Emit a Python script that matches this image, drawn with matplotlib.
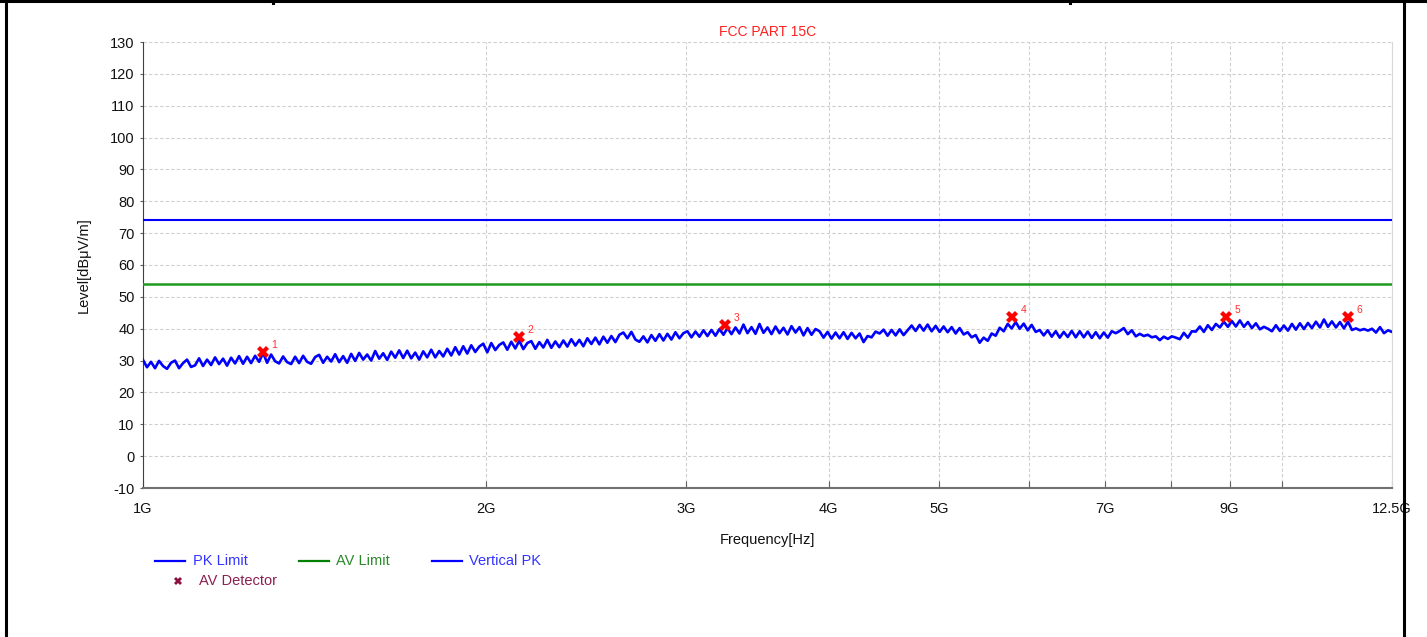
import numpy as np
import matplotlib
matplotlib.use("Agg")
import matplotlib.pyplot as plt
from matplotlib.lines import Line2D
from matplotlib.ticker import FixedLocator, FixedFormatter, NullLocator

plt.rcParams['font.family'] = ['Liberation Sans', 'DejaVu Sans']
plt.rcParams['axes.unicode_minus'] = False

# ---------------- data ----------------
f_start_hz = 1e9
f_stop_hz = 12.5e9

pk_limit = 74.0
av_limit = 54.0

vertical_pk = [
    30.2, 27.9, 29.6, 27.6, 29.9, 28.3, 27.4, 29.3, 30.0, 27.6, 29.2, 30.3, 28.0,
    28.5, 30.7, 28.3, 30.3, 28.6, 31.0, 28.9, 30.6, 28.4, 30.9, 29.1, 31.4, 29.0,
    31.2, 29.2, 31.5, 29.6, 32.4, 29.3, 31.9, 29.8, 29.1, 31.3, 29.5, 28.9, 31.2,
    29.2, 31.5, 29.6, 29.0, 31.1, 31.8, 29.3, 31.2, 29.7, 32.0, 29.5, 31.4, 29.3,
    32.1, 29.9, 32.4, 30.3, 31.9, 30.0, 33.0, 30.6, 32.3, 30.2, 32.8, 30.9, 33.2,
    30.8, 33.1, 30.7, 32.5, 30.3, 32.9, 31.0, 33.4, 31.0, 33.0, 31.3, 33.7, 31.6,
    34.2, 31.9, 34.5, 32.2, 34.8, 32.7, 34.4, 35.3, 32.6, 35.5, 33.3, 34.9, 35.7,
    33.4, 35.9, 33.8, 36.2, 33.6, 35.5, 36.1, 33.7, 35.8, 34.1, 36.5, 34.0, 36.0,
    34.2, 36.3, 34.4, 36.7, 34.7, 36.5, 34.5, 37.0, 35.2, 37.2, 35.1, 37.5, 35.6,
    37.7, 35.8, 38.1, 38.8, 37.0, 39.0, 36.6, 35.9, 37.6, 35.7, 38.0, 36.2, 38.3,
    36.3, 38.4, 36.6, 38.9, 37.0, 38.6, 39.2, 37.3, 39.1, 37.5, 39.5, 37.7, 39.6,
    37.8, 39.9, 38.1, 40.2, 38.3, 40.4, 38.5, 41.3, 38.6, 40.5, 38.4, 41.5, 38.7,
    40.4, 38.3, 40.7, 38.6, 40.3, 38.2, 40.8, 38.8, 40.5, 37.9, 40.2, 38.1, 39.9,
    39.2, 37.2, 39.0, 36.9, 38.8, 37.0, 38.9, 36.8, 38.7, 37.0, 38.5, 35.8, 37.7,
    37.3, 39.1, 38.5, 39.7, 37.8, 39.6, 37.9, 39.8, 38.0, 39.5, 41.0, 39.3, 41.2,
    39.4, 41.3, 39.2, 40.9, 39.0, 40.7, 38.9, 40.5, 38.5, 40.2, 38.2, 38.9, 37.3,
    38.0, 35.6, 37.2, 36.2, 38.5, 37.8, 40.3, 39.2, 41.5, 40.1, 42.1, 40.0, 41.6,
    39.5, 41.2, 39.0, 39.6, 37.9, 39.5, 37.5, 39.2, 37.2, 39.0, 37.4, 39.3, 37.3,
    39.2, 37.3, 39.1, 37.1, 38.9, 37.0, 38.8, 37.2, 39.2, 38.6, 39.3, 40.2, 38.3,
    39.5, 37.6, 38.4, 37.7, 38.1, 37.3, 37.6, 36.4, 37.5, 36.8, 37.6, 37.2, 36.7,
    38.7, 37.2, 39.2, 39.1, 40.7, 39.0, 41.1, 39.6, 41.5, 40.4, 42.2, 40.6, 42.4,
    40.7, 42.6, 40.6, 42.1, 40.2, 41.7, 39.8, 40.6, 40.0, 39.2, 41.1, 39.3, 41.0,
    39.4, 41.5, 39.7, 41.7, 39.9, 41.8, 40.2, 42.2, 40.4, 42.9, 40.6, 42.3, 40.4,
    42.1, 40.1, 42.2, 39.6, 40.1, 39.5, 39.9, 39.4, 40.0, 38.8, 40.5, 38.6, 39.5,
    39.0,
]

av_freq_ghz = [1.275, 2.139, 3.245, 5.80, 8.94, 11.44]
av_level = [32.7, 37.4, 41.2, 43.7, 43.7, 43.7]
av_labels = ['1', '2', '3', '4', '5', '6']

x_ticks_ghz = [1, 2, 3, 4, 5, 6, 7, 8, 9, 10, 12.5]
x_tick_labels = ['1G', '2G', '3G', '4G', '5G', '', '7G', '', '9G', '', '12.5G']
y_ticks = list(range(-10, 131, 10))

# ---------------- figure ----------------
W, H = 1427, 637
fig = plt.figure(figsize=(W / 100, H / 100), dpi=100)
ax = fig.add_axes([143 / W, 1 - 488 / H, (1392 - 143) / W, (488 - 42) / H])

freq = np.geomspace(f_start_hz, f_stop_hz, len(vertical_pk))
ax.plot(freq, vertical_pk, color='#0000ff', lw=1.9, zorder=3)
ax.axhline(pk_limit, color='#0000ff', lw=1.5, zorder=3)
ax.axhline(av_limit, color='#1f9a1f', lw=1.8, zorder=3)

av_freq_hz = np.array(av_freq_ghz) * 1e9
ax.plot(av_freq_hz, av_level, linestyle='none', marker='X', color='#ff0000',
        markersize=9, markeredgewidth=0, zorder=4)
for fx, lv, lb in zip(av_freq_hz, av_level, av_labels):
    ax.annotate(lb, (fx, lv), xytext=(6, 3), textcoords='offset points',
                color='#ff3030', fontsize=7.5)

ax.set_xscale('log')
ax.set_xlim(f_start_hz, f_stop_hz)
ax.set_ylim(-10, 130)
ax.xaxis.set_major_locator(FixedLocator([v * 1e9 for v in x_ticks_ghz]))
ax.xaxis.set_major_formatter(FixedFormatter(x_tick_labels))
ax.xaxis.set_minor_locator(NullLocator())
ax.set_yticks(y_ticks)

ax.grid(True, color='#cfcfcf', linestyle=(0, (3, 2)), lw=0.8, zorder=0)
ax.tick_params(axis='x', direction='in', length=5, color='#606060',
               labelsize=10.5, pad=10, labelcolor='#111111')
ax.tick_params(axis='y', direction='out', length=2, color='#606060',
               labelsize=10.5, pad=4, labelcolor='#111111')

ax.spines['top'].set_visible(False)
ax.spines['right'].set_color('#d8d8d8')
ax.spines['left'].set_color('#404040')
ax.spines['bottom'].set_color('#707070')
ax.spines['bottom'].set_linewidth(1.5)

ax.set_title('FCC PART 15C', color='#ff2020', fontsize=10, pad=4)
ax.set_xlabel('Frequency[Hz]', fontsize=10.5, labelpad=12, color='#111111')
ax.set_ylabel('Level[dBμV/m]', fontsize=10.5, labelpad=14, color='#111111')

# ---------------- legend (manual layout) ----------------
def fx_(px):
    return px / W

def fy_(py):
    return 1 - py / H

legend_rows = [
    (155, 561, '#0000ff', 'PK Limit', '#3333ff', 193),
    (299, 561, '#008000', 'AV Limit', '#2a8a2a', 336),
    (432, 561, '#0000ff', 'Vertical PK', '#3333ff', 469),
]
for x0, y0, c, txt, tc, tx in legend_rows:
    fig.add_artist(Line2D([fx_(x0), fx_(x0 + 30)], [fy_(y0), fy_(y0)],
                          color=c, lw=1.6))
    fig.text(fx_(tx), fy_(y0), txt, color=tc, fontsize=10.5, va='center')
fig.add_artist(Line2D([fx_(178)], [fy_(581)], marker='X', color='#8b1040',
                      markersize=6, markeredgewidth=0, linestyle='none'))
fig.text(fx_(199), fy_(581), 'AV Detector', color='#8b2050', fontsize=10.5,
         va='center')

# ---------------- frame ----------------
frame_kw = dict(color='black', lw=2.2)
fig.add_artist(Line2D([0, 1], [fy_(1), fy_(1)], **frame_kw))
fig.add_artist(Line2D([fx_(5.5), fx_(5.5)], [0, 1], **frame_kw))
fig.add_artist(Line2D([fx_(1404), fx_(1404)], [0, 1], **frame_kw))
fig.add_artist(Line2D([fx_(273), fx_(273)], [fy_(0), fy_(3)], **frame_kw))
fig.add_artist(Line2D([fx_(1070), fx_(1070)], [fy_(0), fy_(3)], **frame_kw))

fig.savefig('out.png', dpi=100, facecolor='white')
